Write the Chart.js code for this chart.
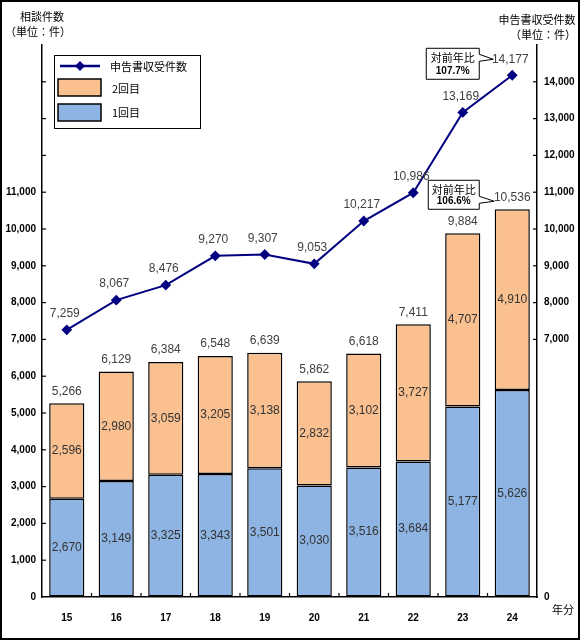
<!DOCTYPE html>
<html>
<head>
<meta charset="utf-8">
<script src="https://cdn.jsdelivr.net/npm/chart.js@4/dist/chart.umd.min.js"></script>
<style>
html,body{margin:0;padding:0;background:#fff;}
#wrap{width:580px;height:640px;}
</style>
</head>
<body>
<div id="wrap"><canvas id="c" width="580" height="640"></canvas></div>
<script>
const categories = ['15','16','17','18','19','20','21','22','23','24'];
const firstRound = [2670,3149,3325,3343,3501,3030,3516,3684,5177,5626];
const secondRound = [2596,2980,3059,3205,3138,2832,3102,3727,4707,4910];
const totals = [5266,6129,6384,6548,6639,5862,6618,7411,9884,10536];
const filings = [7259,8067,8476,9270,9307,9053,10217,10986,13169,14177];
const leftTickLabels = [0,1000,2000,3000,4000,5000,6000,7000,8000,9000,10000,11000];
const rightTickLabels = [0,7000,8000,9000,10000,11000,12000,13000,14000];
const yoyFilings = '107.7%';
const yoyConsult = '106.6%';

const BLUE = 'rgb(141,180,227)';
const PEACH = 'rgb(250,192,144)';
const NAVY = '#000080';
const NUMFONT = '"Liberation Sans", Arial, sans-serif';
const JPFONT = '"Noto Sans CJK JP", "Noto Sans", sans-serif';
const fmt = v => v.toLocaleString('en-US');

const decor = {
  id: 'decor',
  afterDraw(chart) {
    const ctx = chart.ctx;
    const ca = chart.chartArea;
    const y = chart.scales.y, y1 = chart.scales.y1, x = chart.scales.x;
    ctx.save();
    // tick marks
    ctx.strokeStyle = '#000'; ctx.lineWidth = 1.2;
    for (let v = 1000; v <= 14000; v += 1000) {
      const py = y.getPixelForValue(v);
      ctx.beginPath(); ctx.moveTo(ca.left, py); ctx.lineTo(ca.left + 4, py); ctx.stroke();
      const py1 = y1.getPixelForValue(v);
      if (v >= 7000) { ctx.beginPath(); ctx.moveTo(ca.right, py1); ctx.lineTo(ca.right - 4, py1); ctx.stroke(); }
    }
    for (let i = 1; i < categories.length; i++) {
      const px = (x.getPixelForValue(i - 1) + x.getPixelForValue(i)) / 2;
      ctx.beginPath(); ctx.moveTo(px, ca.bottom); ctx.lineTo(px, ca.bottom - 4); ctx.stroke();
    }
    // data labels
    ctx.textAlign = 'center'; ctx.textBaseline = 'middle';
    ctx.font = '12px ' + NUMFONT;
    ctx.fillStyle = '#333';
    [0, 1].forEach(di => {
      const meta = chart.getDatasetMeta(di);
      const arr = di === 0 ? firstRound : secondRound;
      meta.data.forEach((el, i) => {
        ctx.fillText(fmt(arr[i]), el.x, (el.y + el.base) / 2);
      });
    });
    ctx.fillStyle = '#404040';
    const top = chart.getDatasetMeta(1).data;
    top.forEach((el, i) => ctx.fillText(fmt(totals[i]), el.x, el.y - 12));
    const pts = chart.getDatasetMeta(2).data;
    pts.forEach((el, i) => ctx.fillText(fmt(filings[i]), el.x - 2, el.y - 16));

    // callouts
    function callout(bx, by, bw, bh, tx, ty, l1, l2) {
      ctx.beginPath();
      ctx.moveTo(bx, by); ctx.lineTo(bx + bw, by);
      ctx.lineTo(bx + bw, ty - 5); ctx.lineTo(tx, ty); ctx.lineTo(bx + bw, ty + 2);
      ctx.lineTo(bx + bw, by + bh); ctx.lineTo(bx, by + bh); ctx.closePath();
      ctx.fillStyle = '#fff'; ctx.fill();
      ctx.strokeStyle = '#000'; ctx.lineWidth = 1; ctx.stroke();
      ctx.fillStyle = '#000';
      ctx.font = '11px ' + JPFONT;
      ctx.fillText(l1, bx + bw / 2, by + bh * 0.32);
      ctx.font = 'bold 10px ' + NUMFONT;
      ctx.fillText(l2, bx + bw / 2, by + bh * 0.74);
    }
    const p9 = pts[9];
    callout(p9.x - 86, p9.y - 27, 53, 31, p9.x - 19, p9.y - 16, '対前年比', yoyFilings);
    const b9 = top[9];
    callout(b9.x - 84, b9.y - 29, 51, 29, b9.x - 18, b9.y - 8, '対前年比', yoyConsult);

    // legend
    const lx = 54, ly = 55;
    ctx.fillStyle = '#fff'; ctx.fillRect(lx, ly, 146, 73);
    ctx.strokeStyle = '#000'; ctx.lineWidth = 1; ctx.strokeRect(lx + 0.5, ly + 0.5, 146, 73);
    ctx.strokeStyle = NAVY; ctx.lineWidth = 2.5;
    ctx.beginPath(); ctx.moveTo(lx + 6, ly + 11); ctx.lineTo(lx + 46, ly + 11); ctx.stroke();
    ctx.fillStyle = NAVY;
    ctx.beginPath(); ctx.moveTo(lx + 26, ly + 6); ctx.lineTo(lx + 31, ly + 11); ctx.lineTo(lx + 26, ly + 16); ctx.lineTo(lx + 21, ly + 11); ctx.closePath(); ctx.fill();
    ctx.lineWidth = 1.5; ctx.strokeStyle = '#000';
    ctx.fillStyle = PEACH; ctx.fillRect(lx + 4, ly + 24, 43, 17); ctx.strokeRect(lx + 4, ly + 24, 43, 17);
    ctx.fillStyle = BLUE; ctx.fillRect(lx + 4, ly + 49, 43, 17); ctx.strokeRect(lx + 4, ly + 49, 43, 17);
    ctx.fillStyle = '#000'; ctx.textAlign = 'left';
    ctx.font = '11px ' + JPFONT;
    ctx.fillText(chart.data.datasets[2].label, lx + 56, ly + 12);
    ctx.fillText(chart.data.datasets[1].label, lx + 58, ly + 34);
    ctx.fillText(chart.data.datasets[0].label, lx + 58, ly + 58);

    // titles
    ctx.textAlign = 'center';
    ctx.font = '11px ' + JPFONT;
    ctx.fillText('相談件数', 42, 17);
    ctx.fillText('（単位：件）', 38, 32);
    ctx.fillText('申告書収受件数', 537, 20);
    ctx.fillText('（単位：件）', 543, 35);
    ctx.textAlign = 'left';
    ctx.fillText('年分', 552, 610);

    // outer frame
    ctx.strokeStyle = '#000'; ctx.lineWidth = 2;
    ctx.strokeRect(1, 1, 578, 638);
    ctx.restore();
  }
};

new Chart(document.getElementById('c'), {
  type: 'bar',
  data: {
    labels: categories,
    datasets: [
      { label: '1回目', data: firstRound, backgroundColor: BLUE, borderColor: '#000', borderWidth: 1.5, borderSkipped: false, stack: 's', yAxisID: 'y', order: 2 },
      { label: '2回目', data: secondRound, backgroundColor: PEACH, borderColor: '#000', borderWidth: 1.5, borderSkipped: false, stack: 's', yAxisID: 'y', order: 2 },
      { type: 'line', label: '申告書収受件数', data: filings, yAxisID: 'y1', borderColor: NAVY, backgroundColor: NAVY, borderWidth: 2, pointStyle: 'rectRot', pointRadius: 4, pointHoverRadius: 4, tension: 0, order: 0 }
    ]
  },
  options: {
    responsive: false,
    animation: false,
    events: [],
    layout: { padding: { top: 45, left: 0, right: 0, bottom: 0 } },
    datasets: { bar: { barPercentage: 0.71, categoryPercentage: 1 } },
    plugins: { legend: { display: false }, tooltip: { enabled: false } },
    scales: {
      x: {
        stacked: true,
        grid: { display: false },
        border: { display: true, color: '#000', width: 1.5 },
        ticks: { color: '#000', font: { family: NUMFONT, size: 10, weight: 'bold' }, padding: 7, maxRotation: 0 },
        afterFit: s => { s.height = 43; }
      },
      y: {
        stacked: true, position: 'left', min: 0, max: 15000,
        grid: { drawOnChartArea: false, drawTicks: false },
        border: { display: true, color: '#000', width: 1.5 },
        ticks: { stepSize: 1000, color: '#000', padding: 6, font: { family: NUMFONT, size: 10, weight: 'bold' },
          callback: v => leftTickLabels.includes(v) ? fmt(v) : '' },
        afterFit: s => { s.width = 42; }
      },
      y1: {
        position: 'right', min: 0, max: 15000,
        grid: { drawOnChartArea: false, drawTicks: false },
        border: { display: true, color: '#000', width: 1.5 },
        ticks: { stepSize: 1000, color: '#000', padding: 7, font: { family: NUMFONT, size: 10, weight: 'bold' },
          callback: v => rightTickLabels.includes(v) ? fmt(v) : '' },
        afterFit: s => { s.width = 43; }
      }
    }
  },
  plugins: [decor]
});
</script>
</body>
</html>
